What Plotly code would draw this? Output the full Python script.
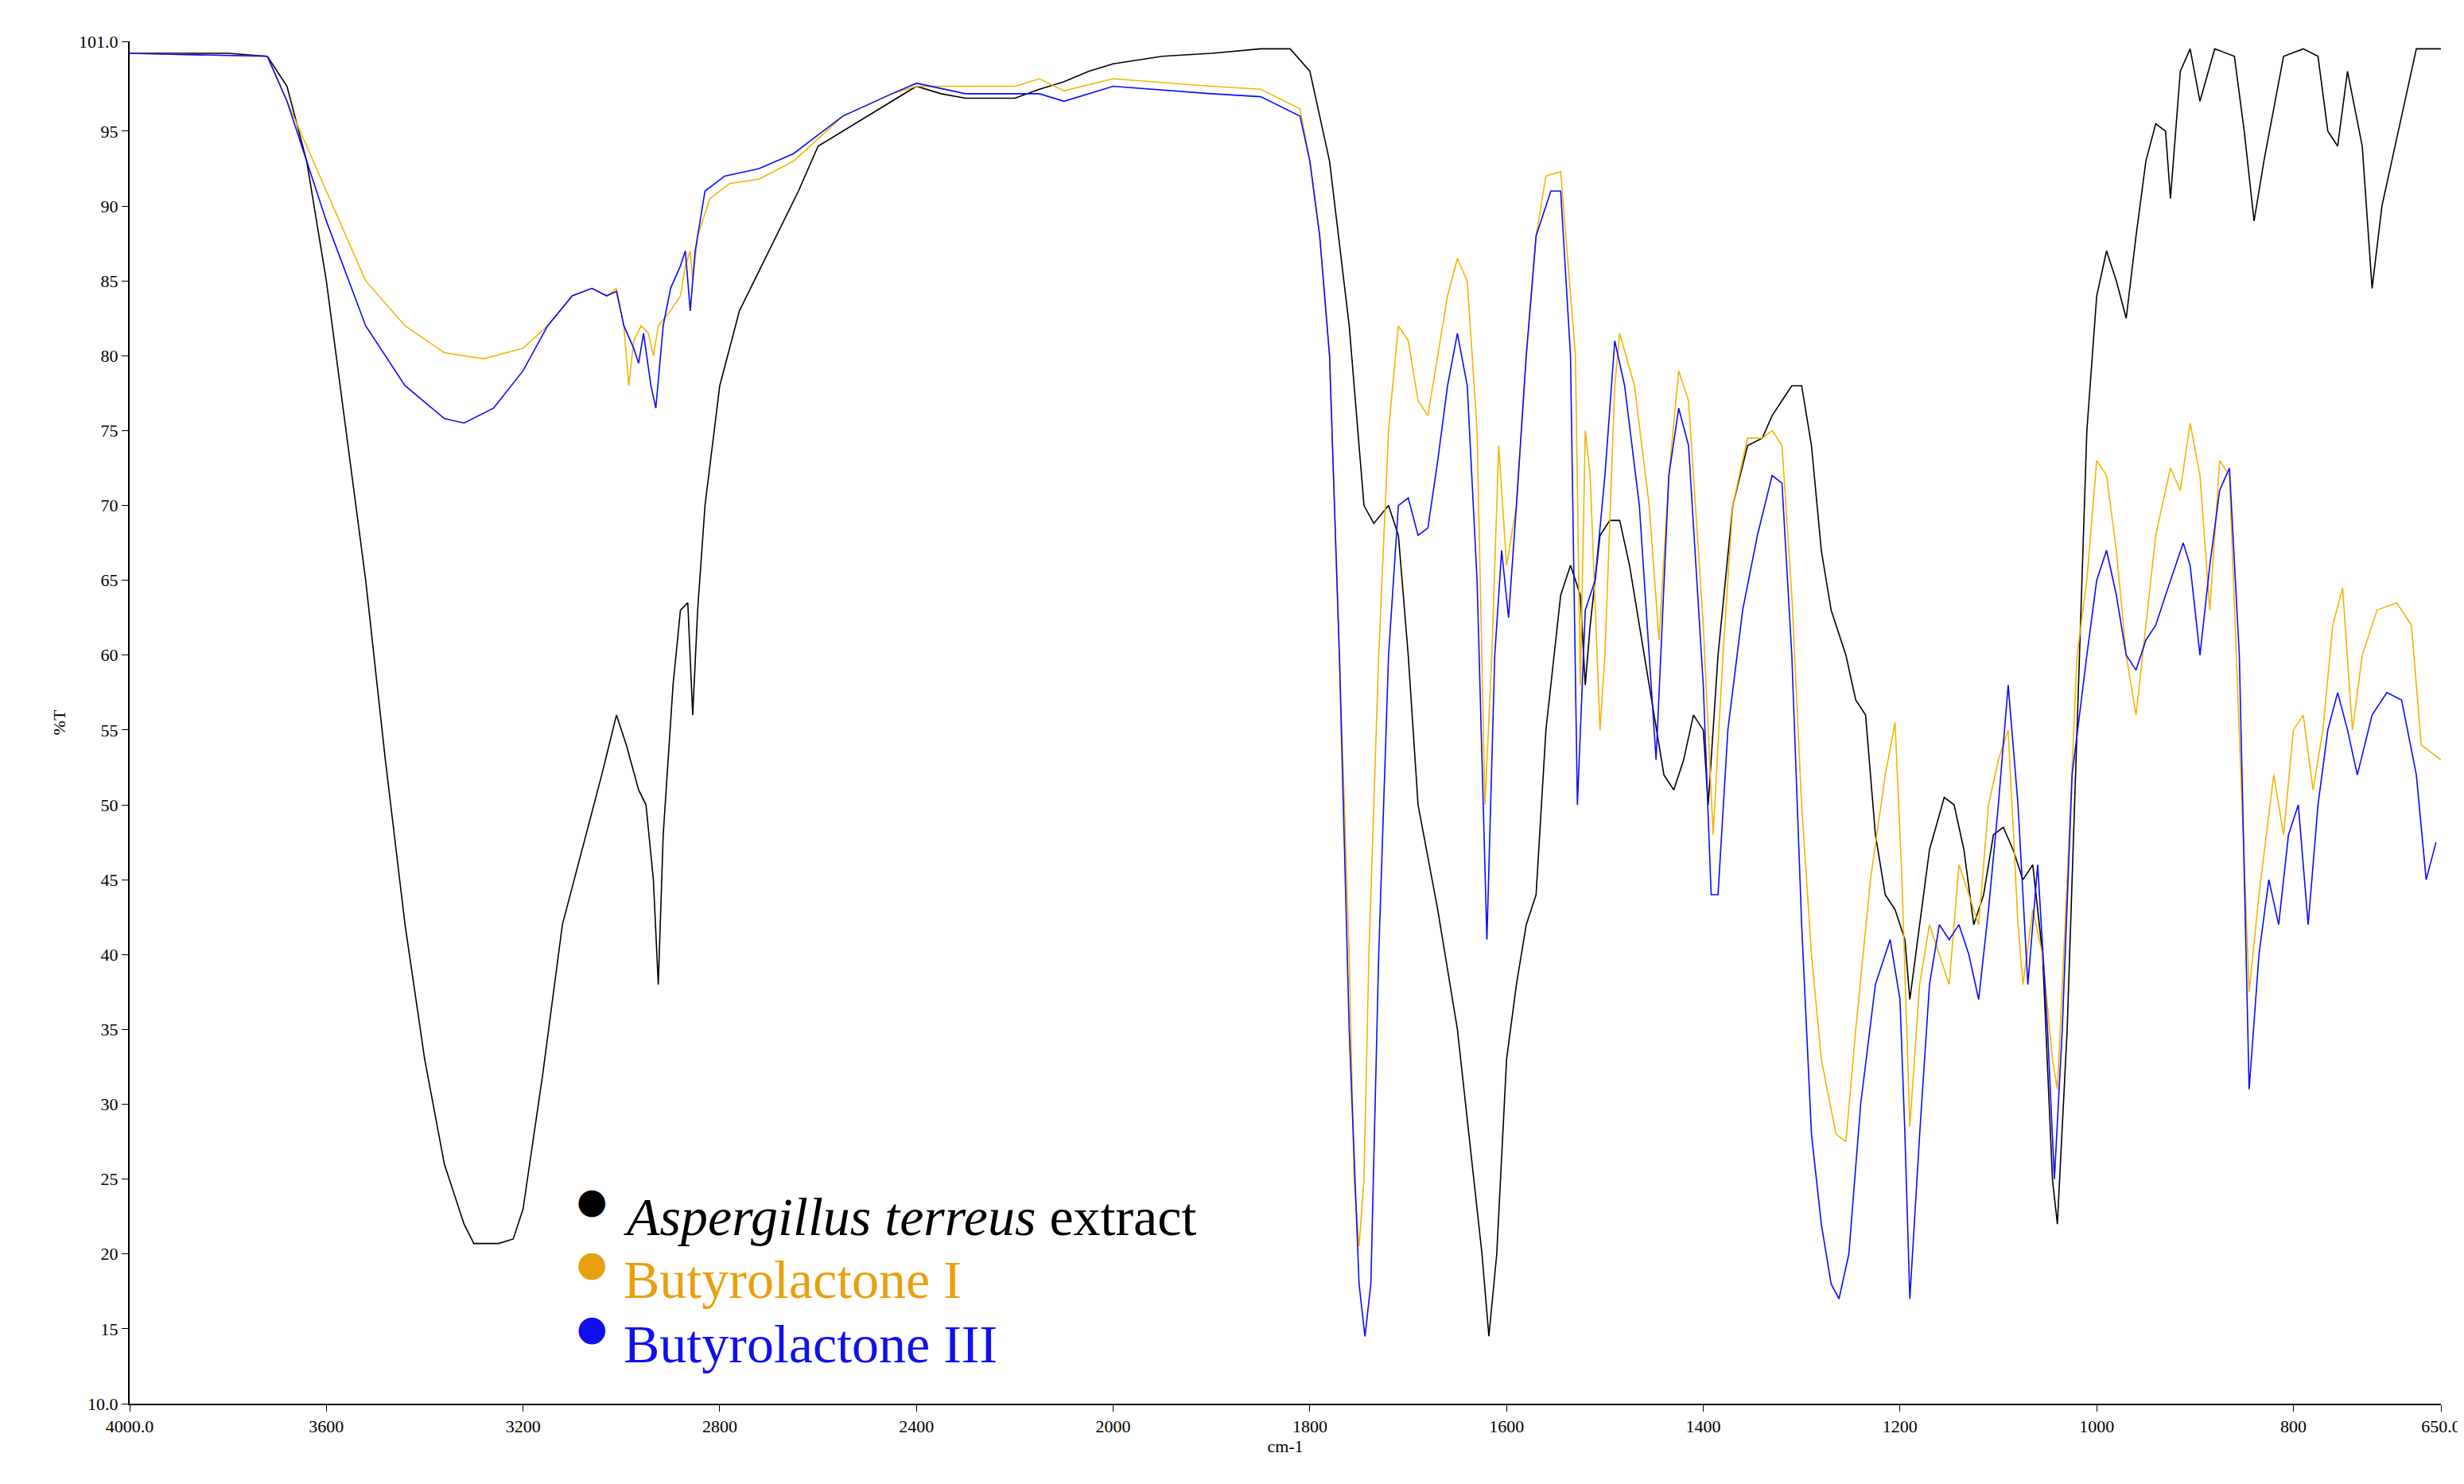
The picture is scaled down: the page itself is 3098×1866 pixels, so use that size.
import plotly.graph_objects as go

# wavenumber (cm-1), %T
black_w = [4000,3800,3720,3680,3640,3600,3560,3520,3480,3440,3400,3360,3320,3300,3250,3220,3200,3160,3120,3080,3040,3010,2990,2965,2950,2935,2925,2915,2895,2880,2865,2855,2845,2830,2800,2760,2700,2640,2600,2500,2400,2350,2300,2200,2150,2100,2050,2000,1950,1900,1850,1820,1800,1780,1760,1745,1735,1720,1710,1700,1690,1670,1650,1635,1625,1618,1610,1600,1590,1580,1570,1560,1545,1535,1525,1520,1515,1505,1495,1485,1475,1460,1440,1430,1420,1410,1400,1395,1385,1370,1355,1340,1330,1320,1310,1300,1290,1280,1270,1255,1245,1235,1225,1215,1205,1195,1190,1180,1170,1155,1145,1135,1125,1115,1105,1095,1085,1075,1065,1055,1045,1040,1030,1020,1010,1000,990,980,970,960,950,940,930,925,915,905,895,880,860,850,840,830,810,790,775,765,755,745,730,720,710,690,675,650]
black_t = [100.2,100.2,100,98,93,85,75,65,53,42,33,26,22,20.7,20.7,21,23,32,42,47,52,56,54,51,50,45,38,48,58,63,63.5,56,63,70,78,83,87,91,94,96,98,97.5,97.2,97.2,97.8,98.3,99,99.5,100,100.2,100.5,100.5,99,93,82,70,68.8,70,68,60,50,43,35,26,20,14.5,20,33,38,42,44,55,64,66,64,58,62,68,69,69,66,60,52,51,53,56,55,50,60,70,74,74.5,76,77,78,78,74,67,63,60,57,56,48,44,43,41,37,42,47,50.5,50,47,42,44,48,48.5,47,45,46,40,25,22,35,55,75,84,87,85,82.5,88,93,95.5,95,90.5,99,100.5,97,100.5,100,95,89,93,100,100.5,100,95,94,99,94,84.5,90,96,100.5,100.5]

yel_w = [4000,3720,3680,3600,3520,3440,3360,3280,3200,3150,3100,3060,3030,3010,2995,2985,2975,2960,2945,2935,2925,2900,2880,2870,2860,2855,2845,2820,2780,2720,2650,2550,2450,2400,2300,2200,2150,2100,2000,1900,1850,1810,1800,1790,1780,1770,1760,1755,1750,1745,1740,1730,1720,1710,1700,1690,1680,1670,1660,1650,1640,1630,1622,1615,1608,1600,1590,1580,1570,1560,1545,1530,1525,1520,1515,1505,1500,1490,1485,1470,1455,1445,1435,1425,1415,1400,1390,1380,1370,1355,1340,1330,1320,1310,1300,1290,1280,1265,1255,1245,1230,1215,1205,1198,1190,1180,1170,1160,1150,1140,1130,1120,1110,1100,1090,1080,1075,1065,1055,1045,1040,1030,1020,1010,1000,990,980,970,960,950,940,925,915,905,895,885,875,865,855,845,835,820,810,800,790,780,770,760,750,740,730,715,695,680,670,650]
yel_t = [100.2,100,97,91,85,82,80.2,79.8,80.5,82,84,84.5,84,84.5,82,78,81,82,81.5,80,82,83,84,86,87,85,88,90.5,91.5,91.8,93,96,97.5,98,98,98,98.5,97.7,98.5,98,97.8,96.5,93,88,80,60,40,25,20.5,25,40,60,75,82,81,77,76,80,84,86.5,85,75,50,60,74,66,70,80,88,92,92.3,80,58,75,72,55,60,78,81.5,78,70,61,72,79,77,62,48,60,70,74.5,74.5,75,74,64,50,40,33,28,27.5,35,45,52,55.5,45,28.5,38,42,40,38,46,44,42,50,53,55,42,38,43,40,33,31,45,60,65,73,72,67,60,56,62,68,72.5,71,75.5,72,63,73,72,55,37.5,44,52,48,55,56,51,55,62,64.5,55,60,63,63.5,62,54,53]

blu_w = [4000,3720,3680,3600,3520,3440,3360,3320,3260,3200,3150,3100,3060,3030,3010,2995,2975,2965,2955,2940,2930,2915,2900,2880,2870,2860,2850,2830,2790,2720,2650,2550,2450,2400,2300,2200,2150,2100,2000,1900,1850,1810,1800,1790,1780,1770,1760,1750,1744,1738,1730,1720,1710,1700,1690,1680,1670,1660,1650,1640,1630,1620,1612,1605,1598,1590,1580,1570,1555,1545,1535,1528,1520,1510,1500,1490,1480,1465,1455,1448,1435,1425,1415,1400,1392,1385,1375,1360,1345,1330,1320,1310,1300,1290,1280,1270,1262,1252,1240,1225,1210,1200,1195,1190,1180,1170,1160,1150,1140,1130,1120,1110,1100,1090,1080,1070,1065,1060,1050,1043,1035,1025,1010,1000,990,980,970,960,950,940,930,920,912,905,895,885,875,865,855,845,835,825,815,805,795,785,775,765,755,745,735,720,705,690,675,665,655]
blu_t = [100.2,100,97,89,82,78,75.8,75.5,76.5,79,82,84,84.5,84,84.3,82,80.5,79.5,81.5,78,76.5,82,84.5,86,87,83,87,91,92,92.5,93.5,96,97.5,98.2,97.5,97.5,97.5,97,98,97.5,97.3,96,93,88,80,60,35,18,14.5,18,40,60,70,70.5,68,68.5,73,78,81.5,78,65,41,60,67,62.5,70,80,88,91,91,80,50,63,65,72,81,78,70,60,53,72,76.5,74,58,44,44,55,63,68,72,71.5,60,42,28,22,18,17,20,30,38,41,37,28,17,28,38,42,41,42,40,37,43,50,58,50,38,42,46,35,25,35,52,60,65,67,64,60,59,61,62,64,66,67.5,66,60,66,71,72.5,60,31,40,45,42,48,50,42,50,55,57.5,55,52,56,57.5,57,52,45,47.5]

x_ticks = [4000, 3600, 3200, 2800, 2400, 2000, 1800, 1600, 1400, 1200, 1000, 800, 650]
x_tick_text = ["4000.0", "3600", "3200", "2800", "2400", "2000", "1800", "1600", "1400", "1200", "1000", "800", "650.0"]
y_ticks = [10, 15, 20, 25, 30, 35, 40, 45, 50, 55, 60, 65, 70, 75, 80, 85, 90, 95, 101]
y_tick_text = ["10.0", "15", "20", "25", "30", "35", "40", "45", "50", "55", "60", "65", "70", "75", "80", "85", "90", "95", "101.0"]

series_names = ["<i>Aspergillus terreus</i> extract", "Butyrolactone I", "Butyrolactone III"]
line_colors = ["black", "#f5b400", "#0a0aff"]
legend_colors = ["black", "#e8a010", "#1010ee"]

def u(w):
    # instrument abscissa: scale doubles below 2000 cm-1
    return (4000 - w) / 2 if w >= 2000 else 1000 + (2000 - w)

font = "Liberation Serif"
fig = go.Figure()
for ws, ts, col, name in zip([black_w, yel_w, blu_w], [black_t, yel_t, blu_t], line_colors, series_names):
    fig.add_trace(go.Scatter(x=[u(w) for w in ws], y=ts, mode="lines", name=name,
                             line=dict(color=col, width=1.6), showlegend=False))

legend_y = [0.137, 0.091, 0.044]
for name, col, yy in zip(series_names, legend_colors, legend_y):
    fig.add_annotation(xref="paper", yref="paper", x=0.2, y=yy + 0.012, text="●",
                       showarrow=False, xanchor="center", yanchor="middle",
                       font=dict(size=44, color=col, family="DejaVu Sans"))
    fig.add_annotation(xref="paper", yref="paper", x=0.213, y=yy, text=name,
                       showarrow=False, xanchor="left", yanchor="middle",
                       font=dict(size=68, color=col, family=font))

fig.update_layout(
    width=3098, height=1866, paper_bgcolor="white", plot_bgcolor="white",
    margin=dict(l=155, r=30, t=44, b=109),
    font=dict(family=font, color="black", size=22),
    showlegend=False,
)
fig.update_xaxes(range=[0, 2350], tickvals=[u(w) for w in x_ticks], ticktext=x_tick_text,
                 showgrid=False, zeroline=False, showline=True, linecolor="black", linewidth=2,
                 ticks="outside", ticklen=8, tickcolor="black",
                 title=dict(text="cm-1", font=dict(size=22), standoff=4))
fig.update_yaxes(range=[10, 101], tickvals=y_ticks, ticktext=y_tick_text,
                 showgrid=False, zeroline=False, showline=True, linecolor="black", linewidth=2,
                 ticks="outside", ticklen=8, tickcolor="black",
                 title=dict(text="%T", font=dict(size=22), standoff=10))
fig.write_html("out.html")
